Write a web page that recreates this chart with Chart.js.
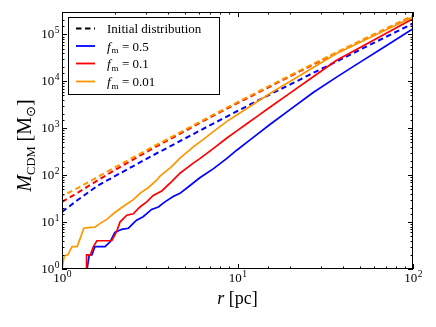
<!DOCTYPE html>
<html>
<head>
<meta charset="utf-8">
<script src="https://cdn.jsdelivr.net/npm/chart.js@4/dist/chart.umd.min.js"></script>
<style>
  html, body { margin:0; padding:0; background:#fff; }
  #wrap { width:436px; height:327px; position:relative; }
</style>
</head>
<body>
<div id="wrap"><canvas id="massChart" width="436" height="327"></canvas></div>
<script>
// initial (dashed) profiles, sampled on a common radius grid [pc]
const rInit = [1, 1.25, 1.6, 2, 2.5, 3.2, 4, 5, 6.3, 8, 10, 12.6, 16, 20, 25, 32, 40, 50, 63, 80, 100];
const initOrange = [36, 55, 92, 146, 230, 380, 590, 920, 1460, 2330, 3590, 5580, 8800, 13400, 20400, 32200, 48500, 72900, 110000, 169000, 251000];
const initRed = [27, 44, 78, 128, 207, 350, 550, 865, 1390, 2220, 3420, 5320, 8400, 12900, 19700, 31200, 47000, 70800, 107000, 165000, 246000];
const initBlue = [16.5, 31, 60, 95, 150, 250, 385, 600, 950, 1510, 2330, 3630, 5730, 8580, 13100, 20600, 31000, 47400, 72600, 113000, 171000];

// evolved (solid) profiles
const rFm001 = [1.0, 1.03, 1.08, 1.14, 1.22, 1.27, 1.33, 1.45, 1.54, 1.65, 1.8, 2.0, 2.25, 2.55, 2.8, 3.1, 3.46, 3.62, 4.2, 4.7, 5.6, 6.5, 7.5, 8.7, 10, 11.3, 13, 15.3, 20, 27, 36.7, 50, 70, 100];
const mFm001 = [1, 1.9, 2, 3, 3, 4.5, 7.4, 7.7, 7.8, 9.4, 11.4, 16, 22, 30, 42, 54, 78, 95, 150, 230, 400, 610, 920, 1400, 1960, 2630, 3700, 5500, 10000, 19600, 39000, 67800, 124000, 234000];

const rFm01 = [1.38, 1.38, 1.45, 1.51, 1.58, 1.65, 1.92, 2.0, 2.07, 2.14, 2.34, 2.55, 2.78, 3.04, 3.31, 3.7, 4.2, 4.7, 5.6, 6.1, 7.3, 8.7, 10, 11.3, 13, 15.3, 20, 27, 36.7, 50, 70, 100];
const mFm01 = [1, 2, 2, 3, 4, 4, 4, 5.3, 7, 10, 14, 15, 21, 27, 37, 46, 72, 110, 180, 225, 372, 620, 900, 1245, 1810, 2800, 5660, 12500, 28000, 52400, 104000, 215000];

const rFm05 = [1.39, 1.43, 1.48, 1.54, 1.76, 1.88, 2.0, 2.19, 2.39, 2.66, 2.9, 3.24, 3.54, 3.86, 4.3, 4.7, 5.3, 6.1, 7.3, 8.7, 9.9, 11.3, 13, 15.3, 20, 27, 36.7, 50, 70, 100];
const mFm05 = [1, 2, 2, 3, 3, 3.8, 6, 7, 7.4, 11, 13, 18.6, 21, 27, 35, 41, 58, 88, 138, 228, 340, 500, 750, 1200, 2520, 5760, 12300, 25600, 56800, 132000];

const xTicks = [1, 10, 100];
const yTicks = [1, 10, 100, 1000, 10000, 100000];
const legendLabels = ['Initial distribution', '0.5', '0.1', '0.01'];

const BLUE = '#0000ff', RED = '#ff0000', ORANGE = '#ff9600';
const legendColors = ['#000000', BLUE, RED, ORANGE];
const SERIF = '"Liberation Serif", "DejaVu Serif", serif';

const pts = (xs, ys) => xs.map((x, i) => ({ x: x, y: ys[i] }));
const dash = [5.5, 3.5];

function isDecade(v){
  const l = Math.log10(v);
  return Math.abs(l - Math.round(l)) < 1e-9;
}

function drawPow(ctx, x, y, exp, align){
  // "10" with a raised exponent; x is anchor, y is baseline
  ctx.font = '13px ' + SERIF;
  const w1 = ctx.measureText('10').width;
  ctx.font = '9.5px ' + SERIF;
  const w2 = ctx.measureText(String(exp)).width;
  let x0 = x;
  if(align === 'right') x0 = x - w1 - w2;
  else if(align === 'center') x0 = x - (w1 + w2) / 2;
  ctx.textAlign = 'left';
  ctx.textBaseline = 'alphabetic';
  ctx.font = '13px ' + SERIF;
  ctx.fillText('10', x0, y);
  ctx.font = '9.5px ' + SERIF;
  ctx.fillText(String(exp), x0 + w1 + 0.5, y - 5);
}

// draws pieces [text, font, dy] one after another, centred on 0
function drawRun(ctx, pieces){
  let total = 0;
  pieces.forEach(p => { ctx.font = p[1]; total += ctx.measureText(p[0]).width; });
  let cx = -total / 2;
  ctx.textAlign = 'left';
  ctx.textBaseline = 'alphabetic';
  pieces.forEach(p => {
    ctx.font = p[1];
    ctx.fillText(p[0], cx, p[2]);
    cx += ctx.measureText(p[0]).width;
  });
}

const decor = {
  id: 'decor',
  afterDraw(chart){
    const { ctx, chartArea: a, scales: { x, y } } = chart;
    ctx.save();
    ctx.strokeStyle = '#000';
    ctx.fillStyle = '#000';
    ctx.lineWidth = 1;

    // ticks on all four sides, pointing inward
    ctx.beginPath();
    x.ticks.forEach(t => {
      const len = isDecade(t.value) ? 5 : 2.5;
      const px = Math.round(x.getPixelForValue(t.value)) + 0.5;
      ctx.moveTo(px, a.bottom); ctx.lineTo(px, a.bottom - len);
      ctx.moveTo(px, a.top); ctx.lineTo(px, a.top + len);
    });
    y.ticks.forEach(t => {
      const len = isDecade(t.value) ? 5 : 2.5;
      const py = Math.round(y.getPixelForValue(t.value)) + 0.5;
      ctx.moveTo(a.left, py); ctx.lineTo(a.left + len, py);
      ctx.moveTo(a.right, py); ctx.lineTo(a.right - len, py);
    });
    ctx.stroke();

    // frame
    ctx.strokeRect(a.left + 0.5, a.top + 0.5, a.right - a.left - 1, a.bottom - a.top - 1);

    // tick labels
    xTicks.forEach(v => drawPow(ctx, x.getPixelForValue(v), a.bottom + 13, Math.round(Math.log10(v)), 'center'));
    yTicks.forEach(v => drawPow(ctx, a.left - 3, y.getPixelForValue(v) + 4, Math.round(Math.log10(v)), 'right'));

    // axis titles
    ctx.save();
    ctx.translate((a.left + a.right) / 2, 304);
    drawRun(ctx, [['r', 'italic 18px ' + SERIF, 0], [' [pc]', '18px ' + SERIF, 0]]);
    ctx.restore();

    ctx.save();
    ctx.translate(31, (a.top + a.bottom) / 2 + 5);
    ctx.rotate(-Math.PI / 2);
    drawRun(ctx, [
      ['M', 'italic 20px ' + SERIF, 0],
      ['CDM', '12.5px ' + SERIF, 3.5],
      [' [M', '20px ' + SERIF, 0],
      ['\u2299', '13px "DejaVu Sans", ' + SERIF, 3.5],
      [']', '20px ' + SERIF, 0]
    ]);
    ctx.restore();

    // legend box
    const lx = 68.5, ly = 17.5, lw = 151, lh = 77;
    ctx.fillStyle = '#fff';
    ctx.fillRect(lx, ly, lw, lh);
    ctx.strokeStyle = '#000';
    ctx.strokeRect(lx, ly, lw, lh);
    const rows = [28.5, 46, 63.5, 81.5];
    rows.forEach((ry, i) => {
      ctx.beginPath();
      ctx.strokeStyle = legendColors[i];
      ctx.lineWidth = 1.8;
      ctx.setLineDash(i === 0 ? dash : []);
      ctx.moveTo(76, ry); ctx.lineTo(95, ry);
      ctx.stroke();
      ctx.setLineDash([]);
      ctx.fillStyle = '#000';
      ctx.textAlign = 'left';
      ctx.textBaseline = 'alphabetic';
      const by = ry + 4.5;
      if(i === 0){
        ctx.font = '13px ' + SERIF;
        ctx.fillText(legendLabels[0], 107, by);
      } else {
        ctx.font = 'italic 13.5px ' + SERIF;
        ctx.fillText('f', 107, by);
        ctx.font = '9px ' + SERIF;
        ctx.fillText('m', 111.5, by + 2.5);
        ctx.font = '13px ' + SERIF;
        ctx.fillText('= ' + legendLabels[i], 122, by);
      }
    });
    ctx.restore();
  }
};

const logAxis = (min, max) => ({
  type: 'logarithmic',
  min: min,
  max: max,
  grid: { display: false },
  border: { display: false },
  ticks: { display: false, autoSkip: false }
});

const xAxis = logAxis(1, 100);
xAxis.afterFit = s => { s.height = 58; };
const yAxis = logAxis(1, 300000);
yAxis.afterFit = s => { s.width = 62; };

new Chart(document.getElementById('massChart'), {
  type: 'line',
  data: {
    datasets: [
      { label: 'init fm=0.5', data: pts(rInit, initBlue), borderColor: BLUE, borderDash: dash, borderWidth: 2, order: 6 },
      { label: 'init fm=0.1', data: pts(rInit, initRed), borderColor: RED, borderDash: dash, borderWidth: 2, order: 5 },
      { label: 'init fm=0.01', data: pts(rInit, initOrange), borderColor: ORANGE, borderDash: dash, borderDashOffset: 3, borderWidth: 2, order: 4 },
      { label: 'fm=0.5', data: pts(rFm05, mFm05), borderColor: BLUE, order: 3 },
      { label: 'fm=0.1', data: pts(rFm01, mFm01), borderColor: RED, order: 2 },
      { label: 'fm=0.01', data: pts(rFm001, mFm001), borderColor: ORANGE, order: 1 }
    ]
  },
  options: {
    responsive: false,
    animation: false,
    layout: { padding: { top: 12, right: 23, left: 0, bottom: 0 } },
    elements: {
      point: { radius: 0 },
      line: { borderWidth: 1.7, tension: 0, fill: false }
    },
    scales: { x: xAxis, y: yAxis },
    plugins: { legend: { display: false }, tooltip: { enabled: false } }
  },
  plugins: [decor]
});
</script>
</body>
</html>
